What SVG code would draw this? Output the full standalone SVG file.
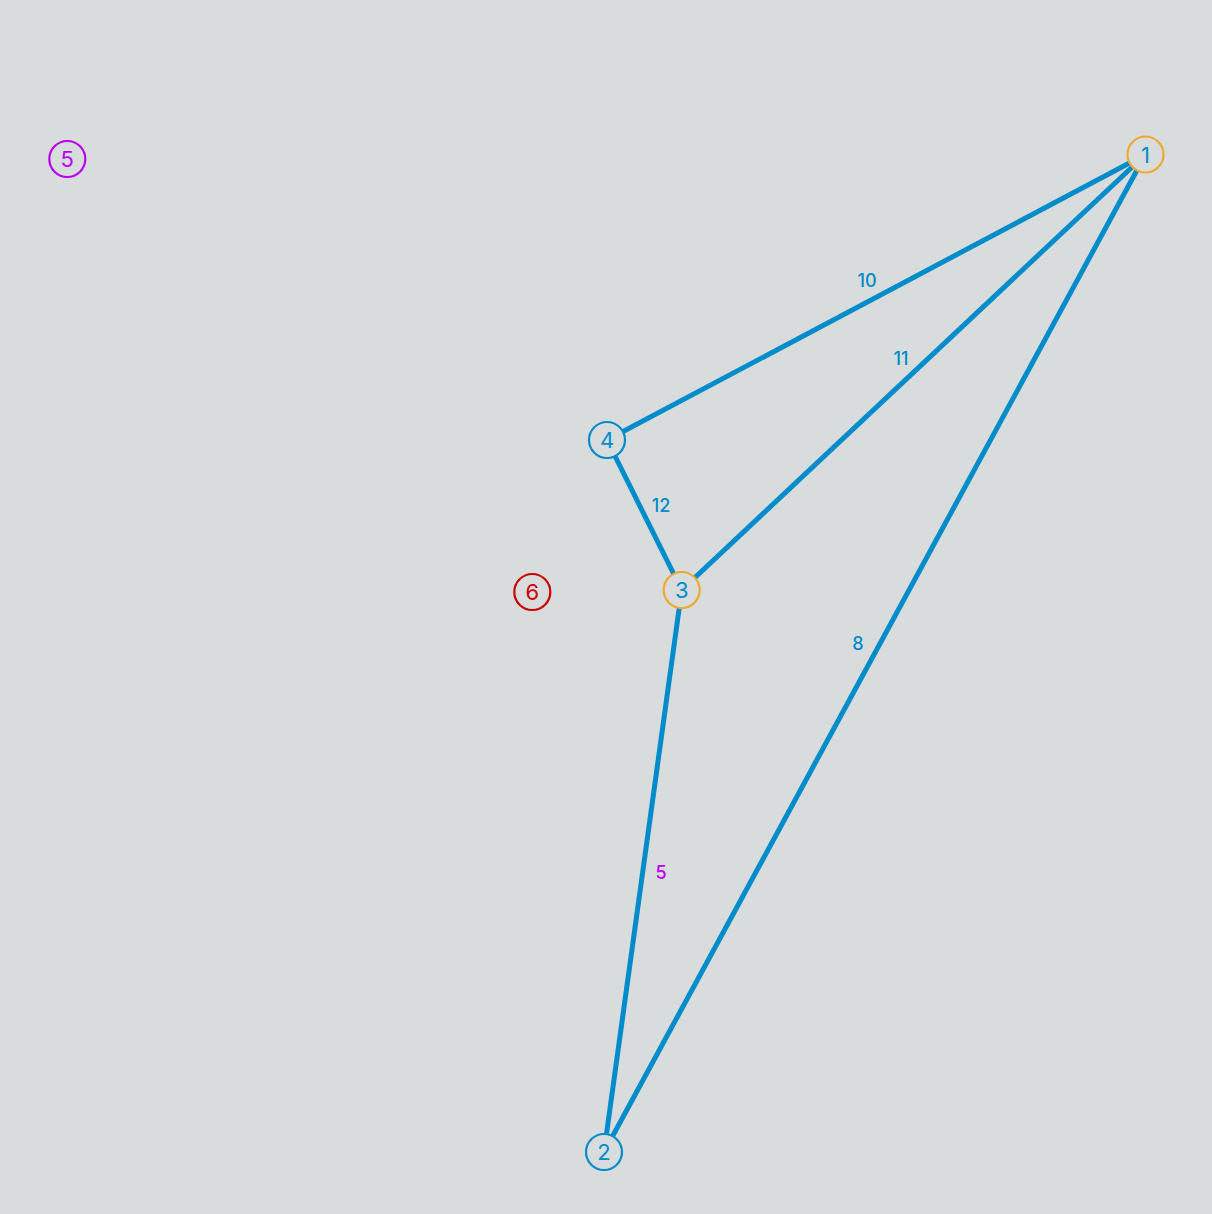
<svg xmlns="http://www.w3.org/2000/svg" width="1212" height="1214" viewBox="0 0 1212 1214">
<style>
.e{stroke:#008ccb;stroke-width:5;fill:none}
.n{fill:#d8dcdd;stroke-width:2.2}
.nt{font-family:Inter,"Liberation Sans",sans-serif;font-size:22px;text-anchor:middle;dominant-baseline:central}
.lt{font-family:Inter,"Liberation Sans",sans-serif;font-size:18px;font-weight:500;text-anchor:middle;dominant-baseline:central;fill:#008ccb}
</style>
<rect width="1212" height="1214" fill="#d8dcdd"/>
<g id="connectors">
<line class="e" x1="1145.5" y1="154.5" x2="607" y2="440"/>
<line class="e" x1="1145.5" y1="154.5" x2="681.7" y2="590"/>
<line class="e" x1="1145.5" y1="154.5" x2="604" y2="1152"/>
<line class="e" x1="607" y1="440" x2="681.7" y2="590"/>
<line class="e" x1="681.7" y1="590" x2="604" y2="1152"/>
<text class="lt" x="867" y="280">10</text>
<text class="lt" x="901" y="358">11</text>
<text class="lt" x="661" y="505">12</text>
<text class="lt" x="858" y="643">8</text>
<text class="lt" x="661" y="872" style="fill:#bb00ee">5</text>
</g>
<g id="node1"><circle class="n" cx="1145.5" cy="154.5" r="18" stroke="#f0a830"/><text class="nt" x="1145.5" y="154.5" fill="#008ccb">1</text></g>
<g id="node2"><circle class="n" cx="604" cy="1152" r="18" stroke="#008ccb"/><text class="nt" x="604" y="1152" fill="#008ccb">2</text></g>
<g id="node3"><circle class="n" cx="681.7" cy="590" r="18" stroke="#f0a830"/><text class="nt" x="681.7" y="590" fill="#008ccb">3</text></g>
<g id="node4"><circle class="n" cx="607" cy="440" r="18" stroke="#008ccb"/><text class="nt" x="607" y="440" fill="#008ccb">4</text></g>
<g id="node5"><circle class="n" cx="67.3" cy="159" r="18" stroke="#bb00ee"/><text class="nt" x="67.3" y="159" fill="#bb00ee">5</text></g>
<g id="node6"><circle class="n" cx="532.3" cy="592" r="18" stroke="#cc0000"/><text class="nt" x="532.3" y="592" fill="#cc0000">6</text></g>
</svg>
